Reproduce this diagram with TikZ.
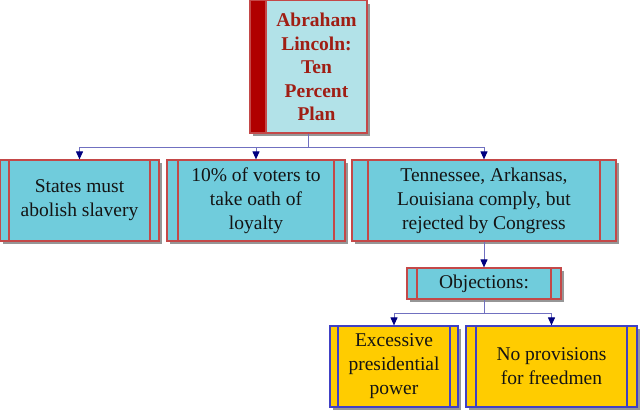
\documentclass[tikz,border=0pt]{standalone}
\usepackage{fontspec}
\setmainfont{Liberation Serif}
\usetikzlibrary{arrows.meta, shadows}

\definecolor{boxcyan}{RGB}{112,204,220}
\definecolor{titlecyan}{RGB}{178,226,232}
\definecolor{titlebar}{RGB}{176,0,0}
\definecolor{titletext}{RGB}{160,30,20}
\definecolor{edgered}{RGB}{196,72,72}
\definecolor{boxgold}{RGB}{255,204,0}
\definecolor{edgeblue}{RGB}{64,64,196}
\definecolor{linkline}{RGB}{112,112,192}
\definecolor{linktip}{RGB}{0,0,128}
\definecolor{shadowgray}{RGB}{150,150,150}

\tikzset{
  boxshadow/.style = {drop shadow = {shadow xshift = 3pt, shadow yshift = -3pt, fill = shadowgray, opacity = 1}},
  sidebars/.style 2 args = {path picture = {
    \draw [#2, line width = 1.2pt] ([xshift = #1]path picture bounding box.north west) -- ([xshift = #1]path picture bounding box.south west);
    \draw [#2, line width = 1.2pt] ([xshift = -#1]path picture bounding box.north east) -- ([xshift = -#1]path picture bounding box.south east);
  }},
  box/.style = {rectangle, draw, line width = 1.2pt, align = center, inner sep = 0pt,
    font = \fontsize{19.5}{24}\selectfont, text = black!92, boxshadow},
  cyanbox/.style = {box, fill = boxcyan, draw = edgered},
  goldbox/.style = {box, fill = boxgold, draw = edgeblue},
  link/.style = {draw = linkline, line width = 1pt, -{Triangle[length = 8pt, width = 7pt, color = linktip]}}
}

\begin{document}
\begin{tikzpicture}[x = 1pt, y = -1pt]	% 1px = 1pt, 上から下へ
  \useasboundingbox (0, 0) rectangle (640, 412);

  % タイトル
  \fill [titlebar, draw = edgered, line width = 1.2pt, boxshadow] (250, 0.8) rectangle (266, 133);	% 左の帯
  \node [box, fill = titlecyan, draw = edgered, minimum width = 101pt, minimum height = 132.2pt,
    text = titletext, font = \bfseries\fontsize{19.5}{23.5}\selectfont] (title) at (316.5, 66.9)
    {Abraham\\Lincoln:\\Ten\\Percent\\Plan};

  % 二段目
  \node [cyanbox, sidebars = {9pt}{edgered}, minimum width = 159pt, minimum height = 81pt]
    (states) at (79.5, 200.5) {States must\\abolish slavery};
  \node [cyanbox, sidebars = {11pt}{edgered}, minimum width = 178pt, minimum height = 81pt]
    (voters) at (256, 200.5) {10\% of voters to\\take oath of\\loyalty};
  \node [cyanbox, sidebars = {16pt}{edgered}, minimum width = 264pt, minimum height = 81pt]
    (comply) at (484, 200.5) {Tennessee, Arkansas,\\Louisiana comply, but\\rejected by Congress};

  % 反対
  \node [cyanbox, sidebars = {10pt}{edgered}, minimum width = 154pt, minimum height = 31pt]
    (objections) at (484, 283.5) {Objections:};
  \node [goldbox, sidebars = {8pt}{edgeblue}, minimum width = 128pt, minimum height = 81pt]
    (excessive) at (394, 366.5) {Excessive\\presidential\\power};
  \node [goldbox, sidebars = {10pt}{edgeblue}, minimum width = 171pt, minimum height = 81pt]
    (freedmen) at (551.5, 366.5) {No provisions\\for freedmen};

  % 矢印
  \coordinate (stem) at ([xshift = -8pt]title.south);
  \coordinate (bus1) at (0, 147);
  \coordinate (bus2) at (0, 313);
  \draw [link] (stem) -- (stem |- bus1) -| (states.north);
  \draw [link] (stem) -- (stem |- bus1) -| (voters.north);
  \draw [link] (stem) -- (stem |- bus1) -| (comply.north);
  \draw [link] (comply.south) -- (objections.north);
  \draw [link] (objections.south) -- (objections.south |- bus2) -| (excessive.north);
  \draw [link] (objections.south) -- (objections.south |- bus2) -| (freedmen.north);

\end{tikzpicture}
\end{document}
